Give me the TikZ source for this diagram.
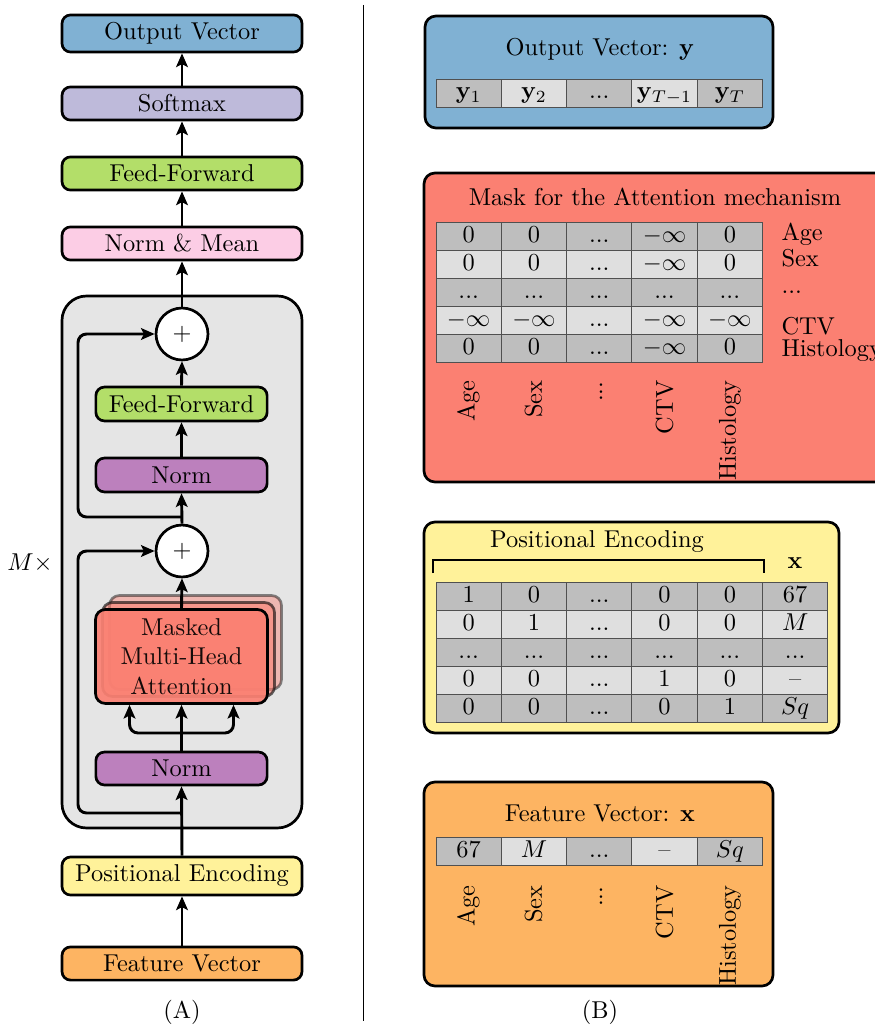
\documentclass[tikz,border=0pt]{standalone}
\usetikzlibrary{arrows.meta,calc}
\definecolor{cOut}{HTML}{80B1D3}
\definecolor{cSoft}{HTML}{BEBADA}
\definecolor{cFF}{HTML}{B3DE69}
\definecolor{cNM}{HTML}{FCCDE5}
\definecolor{cNorm}{HTML}{BC80BD}
\definecolor{cMHA}{HTML}{FB8072}
\definecolor{cFV}{HTML}{FDB462}
\definecolor{cPE}{HTML}{FFF29A}
\definecolor{cGrey}{HTML}{E5E5E5}
\definecolor{cD}{HTML}{BEBEBE}
\definecolor{cL}{HTML}{DFDFDF}
\definecolor{cellline}{HTML}{505050}
\newcommand\dd{...}
\newcommand\tabrow[3]{%
  \foreach \f/\v [count=\k] in {#3} {
    \path[draw=cellline, line width=0.4pt, fill=\f] ({436+(\k-1)*65.3},#2) rectangle ++(65.3,28);
    \node[anchor=base] (#1-\k) at ({436+(\k-0.5)*65.3},{#2+20}) {\v};
  }}
\begin{document}
\begin{tikzpicture}[x=0.41pt,y=-0.41pt,
  blk/.style={draw, line width=1.1pt, rounded corners=3.5pt, minimum width=98.4pt, minimum height=13.6pt, inner sep=0pt},
  sblk/.style={blk, minimum width=70.2pt, minimum height=13.9pt},
  arr/.style={line width=1.2pt, -{Stealth[length=5.6pt,width=4.8pt,inset=1.2pt]}},
  plus/.style={circle, draw, fill=white, line width=1.1pt, minimum size=21.3pt, inner sep=0pt},
  panel/.style={draw, line width=1.1pt, rounded corners=4.5pt},
  rlab/.style={rotate=90, anchor=east, inner sep=0pt},
  mhal/.style={draw, line width=1.1pt, rounded corners=4pt, minimum width=70.5pt, minimum height=38.5pt, inner sep=0pt, align=center}]
\useasboundingbox (0,0) rectangle (875,1026);

% ---------- (A) ----------
\node[draw, line width=1.1pt, rounded corners=10pt, fill=cGrey, minimum width=98.4pt, minimum height=218.1pt, inner sep=0pt] (grey) at (182,562) {};
\node[blk, fill=cOut, minimum height=15.2pt] (out) at (182,33.5) {Output Vector};
\node[blk, fill=cSoft] (soft) at (182,103.5) {Softmax};
\node[blk, fill=cFF] (ff2) at (182,173.5) {Feed-Forward};
\node[blk, fill=cNM] (nm) at (182,243.5) {Norm \& Mean};
\node[plus] (p1) at (182,334) {$+$};
\node[sblk, fill=cFF] (ff1) at (181.5,404) {Feed-Forward};
\node[sblk, fill=cNorm] (n1) at (181.5,475) {Norm};
\node[plus] (p2) at (182,551) {$+$};
\node[mhal, fill=cMHA, fill opacity=0.45, draw opacity=0.45] (mhab) at (195.5,642.5) {};
\node[mhal, fill=cMHA, fill opacity=0.6, draw opacity=0.6] (mham) at (188.5,649.5) {};
\node[mhal, fill=cMHA, fill opacity=0.92] (mha) at (181.5,656.5) {Masked\\Multi-Head\\Attention};
\node[sblk, fill=cNorm, minimum height=13.5pt] (n0) at (181.5,768.5) {Norm};
\node[blk, fill=cPE, minimum height=15.6pt] (pe) at (182,876) {Positional Encoding};
\node[blk, fill=cFV] (fv) at (182,963.5) {Feature Vector};

\draw[arr] (fv.north) -- (pe.south);
\draw[arr] (pe.north) -- (n0.south);
\draw[arr] (n0.north) -- (mha.south);
\coordinate (br) at (182,733);
\draw[arr, rounded corners=3.5pt] (br) -| ($(mha.south)+(-52,0)$);
\draw[arr, rounded corners=3.5pt] (br) -| ($(mha.south)+(52,0)$);
\draw[arr] (mha.north) -- (p2.south);
\draw[arr] (p2.north) -- (n1.south);
\draw[arr] (n1.north) -- (ff1.south);
\draw[arr] (ff1.north) -- (p1.south);
\draw[arr] (p1.north) -- (nm.south);
\draw[arr] (nm.north) -- (ff2.south);
\draw[arr] (ff2.north) -- (soft.south);
\draw[arr] (soft.north) -- (out.south);
\coordinate (r1) at (182,517);
\coordinate (r2) at (182,813);
\draw[arr, rounded corners=3.5pt] (r1) -- (78,517) |- (p1.west);
\draw[arr, rounded corners=3.5pt] (r2) -- (78,813) |- (p2.west);

\node (mx) at (30,563) {$M\times$};
\node (lA) at (182,1012) {(A)};
\draw[line width=0.4pt] (363,5) -- (363,1021);

% ---------- (B) ----------
% output vector
\draw[panel, fill=cOut] (425,16) rectangle (773,128);
\node (ovt) at (600,49) {Output Vector: $\mathbf{y}$};
\tabrow{ov}{79}{cD/$\mathbf{y}_1$, cL/$\mathbf{y}_2$, cD/\dd, cL/$\mathbf{y}_{T-1}$, cD/$\mathbf{y}_T$}

% mask
\draw[panel, fill=cMHA] (424,173) rectangle (886,482);
\node (mkt) at (655,197) {Mask for the Attention mechanism};
\tabrow{ma}{222.3}{cD/0, cD/0, cD/\dd, cD/$-\infty$, cD/0}
\tabrow{mb}{250.3}{cL/0, cL/0, cL/\dd, cL/$-\infty$, cL/0}
\tabrow{mc}{278.3}{cD/\dd, cD/\dd, cD/\dd, cD/\dd, cD/\dd}
\tabrow{md}{306.3}{cL/$-\infty$, cL/$-\infty$, cL/\dd, cL/$-\infty$, cL/$-\infty$}
\tabrow{me}{334.3}{cD/0, cD/0, cD/\dd, cD/$-\infty$, cD/0}
\node[anchor=base west, inner sep=0pt] (mr1) at (781,240) {Age};
\node[anchor=base west, inner sep=0pt] (mr2) at (781,266.5) {Sex};
\node[anchor=base west, inner sep=0pt] (mr3) at (781,293) {...};
\node[anchor=base west, inner sep=0pt] (mr4) at (781,334) {CTV};
\node[anchor=base west, inner sep=0pt] (mr5) at (781,356) {Histology};
\node[rlab] (mc1) at (468.5,380) {Age};
\node[rlab] (mc2) at (533.5,380) {Sex};
\node[rlab] (mc3) at (601,381) {...};
\node[rlab] (mc4) at (664.5,380) {CTV};
\node[rlab] (mc5) at (730,380) {Histology};

% positional encoding
\draw[panel, fill=cPE] (424,522) rectangle (839,733);
\node (pet) at (597,542) {Positional Encoding};
\draw[line width=1.1pt] (433,573) -- (433,560) -- (764,560) -- (764,573);
\node (pex) at (795,563) {$\mathbf{x}$};
\tabrow{pa}{582.7}{cD/1, cD/0, cD/\dd, cD/0, cD/0, cD/67}
\tabrow{pb}{610.7}{cL/0, cL/1, cL/\dd, cL/0, cL/0, cL/$M$}
\tabrow{pc}{638.7}{cD/\dd, cD/\dd, cD/\dd, cD/\dd, cD/\dd, cD/\dd}
\tabrow{pd}{666.7}{cL/0, cL/0, cL/\dd, cL/1, cL/0, cL/--}
\tabrow{pf}{694.7}{cD/0, cD/0, cD/\dd, cD/0, cD/1, cD/$Sq$}

% feature vector
\draw[panel, fill=cFV] (424,782) rectangle (773,986);
\node (fvt) at (600,813) {Feature Vector: $\mathbf{x}$};
\tabrow{fr}{837.5}{cD/67, cL/$M$, cD/\dd, cL/--, cD/$Sq$}
\node[rlab] (fc1) at (468.5,885) {Age};
\node[rlab] (fc2) at (533.5,885) {Sex};
\node[rlab] (fc3) at (601,886) {...};
\node[rlab] (fc4) at (664.5,885) {CTV};
\node[rlab] (fc5) at (730,885) {Histology};

\node (lB) at (600,1012) {(B)};
\end{tikzpicture}
\end{document}
